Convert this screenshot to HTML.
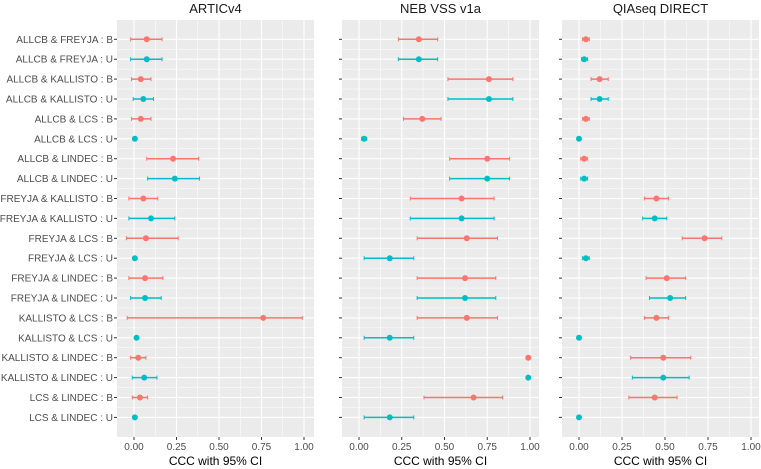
<!DOCTYPE html>
<html><head><meta charset="utf-8"><style>
body{margin:0;background:#fff;}
svg{display:block;font-family:"Liberation Sans",sans-serif;}
</style></head><body>
<svg id="chart" width="761" height="469"></svg>
<script>
const categories=["ALLCB & FREYJA : B","ALLCB & FREYJA : U","ALLCB & KALLISTO : B","ALLCB & KALLISTO : U","ALLCB & LCS : B","ALLCB & LCS : U","ALLCB & LINDEC : B","ALLCB & LINDEC : U","FREYJA & KALLISTO : B","FREYJA & KALLISTO : U","FREYJA & LCS : B","FREYJA & LCS : U","FREYJA & LINDEC : B","FREYJA & LINDEC : U","KALLISTO & LCS : B","KALLISTO & LCS : U","KALLISTO & LINDEC : B","KALLISTO & LINDEC : U","LCS & LINDEC : B","LCS & LINDEC : U"];
const panels=["ARTICv4","NEB VSS v1a","QIAseq DIRECT"];
const tickLabels=["0.00","0.25","0.50","0.75","1.00"];
const tickValues=[0,0.25,0.5,0.75,1];
const articEst=[0.075,0.075,0.04,0.055,0.04,0.005,0.23,0.24,0.055,0.1,0.07,0.005,0.065,0.065,0.76,0.015,0.025,0.06,0.035,0.005];
const articLo=[-0.02,-0.02,-0.015,-0.005,-0.015,0,0.075,0.08,-0.03,-0.03,-0.045,0,-0.03,-0.02,-0.04,0.005,-0.02,-0.01,-0.01,0];
const articHi=[0.165,0.165,0.1,0.115,0.1,0.01,0.38,0.385,0.14,0.24,0.26,0.01,0.17,0.16,0.99,0.025,0.07,0.135,0.08,0.01];
const nebEst=[0.35,0.35,0.76,0.76,0.37,0.03,0.75,0.75,0.6,0.6,0.63,0.18,0.62,0.62,0.63,0.18,0.99,0.99,0.67,0.18];
const nebLo=[0.23,0.23,0.52,0.52,0.26,0.015,0.53,0.53,0.3,0.3,0.34,0.03,0.34,0.34,0.34,0.03,0.985,0.985,0.38,0.03];
const nebHi=[0.46,0.46,0.9,0.9,0.48,0.045,0.88,0.88,0.79,0.79,0.81,0.32,0.8,0.8,0.81,0.32,0.995,0.995,0.84,0.32];
const qiaEst=[0.04,0.03,0.12,0.12,0.04,0.0,0.03,0.03,0.45,0.44,0.73,0.04,0.51,0.53,0.45,0.0,0.49,0.49,0.44,0.0];
const qiaLo=[0.02,0.015,0.07,0.07,0.02,0,0.01,0.01,0.38,0.37,0.6,0.02,0.39,0.41,0.38,0,0.3,0.31,0.29,0];
const qiaHi=[0.06,0.05,0.17,0.17,0.06,0.005,0.05,0.05,0.52,0.51,0.83,0.06,0.62,0.62,0.52,0.005,0.65,0.64,0.57,0.005];
const series=[[articEst,articLo,articHi],[nebEst,nebLo,nebHi],[qiaEst,qiaLo,qiaHi]];

const svgEl=document.getElementById('chart');
const NS='http://www.w3.org/2000/svg';
function mk(t,a,p){const e=document.createElementNS(NS,t);for(const k in a)e.setAttribute(k,a[k]);(p||svgEl).appendChild(e);return e;}
const plotTop=20,plotBot=437;
const panelLeft=[117,342,562],panelW=197;
const zero=[134,359,579],unit=[170,171,172];
const rowY=i=>39.3+i*19.9;
panels.forEach((p,pi)=>{
  const g=mk('g',{});
  
  
  const x=v=>zero[pi]+v*unit[pi];
  const bg=mk('rect',{x:panelLeft[pi],y:plotTop,width:panelW,height:plotBot-plotTop,fill:'#EBEBEB'},g);
  
  
  for(let k=0;k<tickValues.length-1;k++){const v=(tickValues[k]+tickValues[k+1])/2;mk('line',{x1:x(v),x2:x(v),y1:plotTop,y2:plotBot,stroke:'#fff','stroke-width':0.5},g);}
  for(let i=0;i<categories.length-1;i++){const m=(rowY(i)+rowY(i+1))/2;mk('line',{x1:panelLeft[pi],x2:panelLeft[pi]+panelW,y1:m,y2:m,stroke:'#fff','stroke-width':0.5},g);}
  tickValues.forEach((v,k)=>{
    mk('line',{x1:x(v),x2:x(v),y1:plotTop,y2:plotBot,stroke:'#fff','stroke-width':1.1},g);
    mk('line',{x1:x(v),x2:x(v),y1:plotBot,y2:plotBot+3,stroke:'#333','stroke-width':1},g);
    const t=mk('text',{x:x(v),y:450,'text-anchor':'middle','font-size':10,fill:'#4D4D4D'},g);t.textContent=tickLabels[k];
    
    
  });
  categories.forEach((c,i)=>{
    mk('line',{x1:panelLeft[pi],x2:panelLeft[pi]+panelW,y1:rowY(i),y2:rowY(i),stroke:'#fff','stroke-width':1.1},g);
    mk('line',{x1:panelLeft[pi]-3,x2:panelLeft[pi],y1:rowY(i),y2:rowY(i),stroke:'#333','stroke-width':1},g);
    if(pi===0){const t=mk('text',{x:113,y:rowY(i)+3.5,'text-anchor':'end','font-size':10,fill:'#4D4D4D'},g);t.textContent=c;
      
      }
  });
  const est=series[pi][0],lo=series[pi][1],hi=series[pi][2];
  categories.forEach((c,i)=>{
    const col=c.endsWith('B')?'#F8766D':'#00BFC4';
    mk('line',{x1:x(lo[i]),x2:x(hi[i]),y1:rowY(i),y2:rowY(i),stroke:col,'stroke-width':1.5},g);
    mk('line',{x1:x(lo[i]),x2:x(lo[i]),y1:rowY(i)-2,y2:rowY(i)+2,stroke:col,'stroke-width':1},g);
    mk('line',{x1:x(hi[i]),x2:x(hi[i]),y1:rowY(i)-2,y2:rowY(i)+2,stroke:col,'stroke-width':1},g);
    const pt=mk('circle',{cx:x(est[i]),cy:rowY(i),r:3,fill:col},g);
    
    
  });
  const st=mk('text',{x:panelLeft[pi]+panelW/2,y:13,'text-anchor':'middle','font-size':13,fill:'#1A1A1A'},g);st.textContent=p;
  
  
  const at=mk('text',{x:panelLeft[pi]+panelW/2,y:465,'text-anchor':'middle','font-size':12,fill:'#000'},g);at.textContent='CCC with 95% CI';
  
  
});
</script>
</body></html>
